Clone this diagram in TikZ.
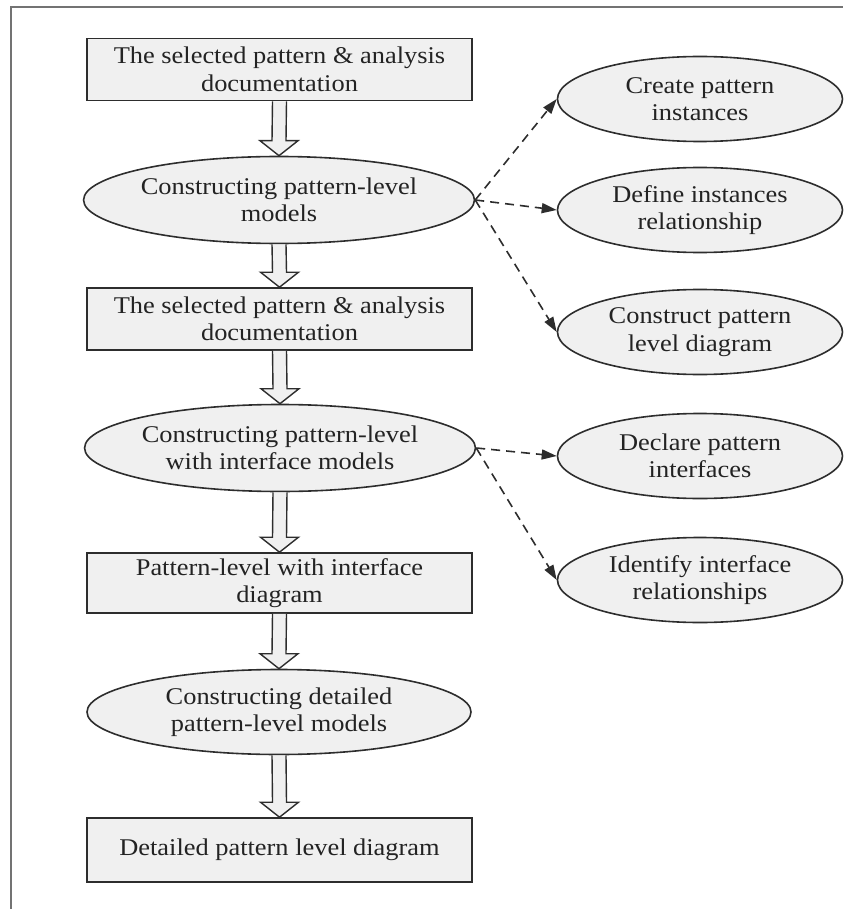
\documentclass[tikz,border=0pt]{standalone}
\usepackage{fontspec}
\setmainfont{Liberation Serif}[FakeStretch=1.1]
\usetikzlibrary{shapes.geometric,arrows.meta,calc}
\definecolor{fillgray}{RGB}{240,240,240}
\definecolor{linegray}{RGB}{45,45,45}
\definecolor{framegray}{RGB}{115,115,115}
\definecolor{textgray}{RGB}{35,35,35}

\tikzset{
  base/.style={draw=linegray, fill=fillgray, line width=1.6pt, text=textgray,
    font=\fontsize{24pt}{27.5pt}\selectfont, align=center, inner sep=0pt},
  stepbox/.style={base, rectangle, minimum width=385pt, minimum height=62pt},
  bigoval/.style={base, ellipse, minimum width=384pt, minimum height=87pt},
  sideoval/.style={base, ellipse, minimum width=285pt, minimum height=85pt},
  flowarrow/.style={draw=linegray, fill=fillgray, line width=1.4pt, line join=miter},
  taskarrow/.style={draw=linegray, line width=1.6pt, dash pattern=on 9pt off 6pt,
    -{Triangle[length=15pt,width=10pt]}}
}

% hollow block arrow from the bottom of #1 to the top of #2
\newcommand{\blockarrow}[2]{%
  \path[flowarrow]
    ($(#1.south)+(-7,0)$) -- ($(#2.north)+(-7,-15)$) -- ($(#2.north)+(-19,-15)$)
    -- (#2.north) -- ($(#2.north)+(19,-15)$) -- ($(#2.north)+(7,-15)$)
    -- ($(#1.south)+(7,0)$);
}

\begin{document}
\begin{tikzpicture}[x=1pt,y=-1pt]
\useasboundingbox (0,0) rectangle (843,909);

% frame lines
\draw[framegray, line width=2.5pt] (11,909) -- (11,7) -- (843,7);

% main flow
\node[stepbox] (b1) at (279.5,69.5) {The selected pattern \& analysis\\documentation};
\node[bigoval] (e1) at (279,200) {Constructing pattern-level\\models};
\node[stepbox] (b2) at (279.5,319) {The selected pattern \& analysis\\documentation};
\node[bigoval] (e2) at (280,448) {Constructing pattern-level\\with interface models};
\node[stepbox, minimum height=60pt] (b3) at (279.5,583) {Pattern-level with interface\\diagram};
\node[bigoval, minimum height=85pt] (e3) at (279,712) {Constructing detailed\\pattern-level models};
\node[stepbox, minimum height=64pt] (b4) at (279.5,850) {Detailed pattern level diagram};

% side tasks
\node[sideoval] (r1) at (700,99) {Create pattern\\instances};
\node[sideoval] (r2) at (700,210) {Define instances\\relationship};
\node[sideoval] (r3) at (700,332) {Construct pattern\\level diagram};
\node[sideoval] (r4) at (700,456) {Declare pattern\\interfaces};
\node[sideoval] (r5) at (700,580) {Identify interface\\relationships};

% block arrows
\blockarrow{b1}{e1}
\blockarrow{e1}{b2}
\blockarrow{b2}{e2}
\blockarrow{e2}{b3}
\blockarrow{b3}{e3}
\blockarrow{e3}{b4}

% dashed task arrows
\draw[taskarrow] (e1.east) -- (r1.west);
\draw[taskarrow] (e1.east) -- (r2.west);
\draw[taskarrow] (e1.east) -- (r3.west);
\draw[taskarrow] (e2.east) -- (r4.west);
\draw[taskarrow] (e2.east) -- (r5.west);
\end{tikzpicture}
\end{document}
